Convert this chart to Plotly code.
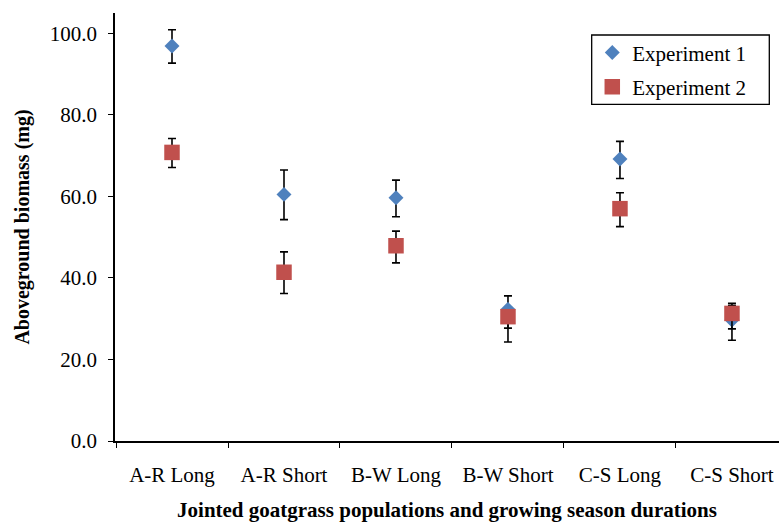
import plotly.graph_objects as go

categories = ["A-R Long", "A-R Short", "B-W Long", "B-W Short", "C-S Long", "C-S Short"]

exp1_mean = [96.9, 60.5, 59.7, 32.3, 69.2, 29.7]
exp1_err_plus = [4.0, 6.0, 4.3, 3.3, 4.3, 4.1]
exp1_err_minus = [4.2, 6.2, 4.7, 4.6, 4.8, 5.0]

exp2_mean = [70.8, 41.4, 47.9, 30.5, 57.0, 31.3]
exp2_err_plus = [3.4, 5.0, 3.6, 1.6, 3.9, 2.0]
exp2_err_minus = [3.7, 5.2, 4.2, 6.2, 4.4, 3.8]

y_ticks = [0, 20, 40, 60, 80, 100]

FONT = "Liberation Serif, serif"

fig = go.Figure()
fig.add_trace(go.Scatter(
    x=categories, y=exp1_mean, mode="markers", name="Experiment 1",
    legendgroup="e1",
    marker=dict(symbol="diamond", size=11.5, color="#4F81BD"),
    error_y=dict(type="data", symmetric=False, array=exp1_err_plus,
                 arrayminus=exp1_err_minus, color="black", thickness=1.6, width=4),
))
fig.add_trace(go.Scatter(
    x=categories, y=exp2_mean, mode="markers", name="Experiment 2",
    legendgroup="e2",
    marker=dict(symbol="square", size=15.5, color="#C0504D"),
    error_y=dict(type="data", symmetric=False, array=exp2_err_plus,
                 arrayminus=exp2_err_minus, color="black", thickness=1.6, width=4),
))

# legend frame
fig.add_shape(type="rect", xref="paper", yref="paper",
              x0=0.7179, x1=0.9854, y0=0.7867, y1=0.9486,
              line=dict(color="black", width=1.3), fillcolor="rgba(0,0,0,0)", layer="above")

fig.update_layout(
    width=779, height=522,
    margin=dict(l=115, r=0, t=13, b=81, autoexpand=False),
    paper_bgcolor="white", plot_bgcolor="white",
    font=dict(family=FONT, size=21, color="black"),
    showlegend=True,
    legend=dict(
        x=0.7188, y=0.955, xanchor="left", yanchor="top",
        borderwidth=0, bgcolor="rgba(0,0,0,0)",
        font=dict(family=FONT, size=21, color="black"),
        tracegroupgap=4,
    ),
    xaxis=dict(
        type="category", categoryorder="array", categoryarray=categories,
        range=[-0.509, 5.42], automargin=False,
        tickson="boundaries", ticks="outside", ticklen=5, tickwidth=1.3,
        tickcolor="black", showline=True, linecolor="black", linewidth=1.5,
        showgrid=False, zeroline=False, ticklabelstandoff=14,
        tickfont=dict(family=FONT, size=21, color="black"),
        title=dict(text="<b>Jointed goatgrass populations and growing season durations</b>",
                   font=dict(family=FONT, size=21, color="black"), standoff=25),
    ),
    yaxis=dict(
        range=[0, 105], tickvals=y_ticks, tickformat=".1f", automargin=False,
        ticks="outside", ticklen=5, tickwidth=1.3, tickcolor="black",
        showline=True, linecolor="black", linewidth=1.5,
        showgrid=False, zeroline=False, ticklabelstandoff=7,
        tickfont=dict(family=FONT, size=21, color="black"),
        title=dict(text="<b>Aboveground biomass (mg)</b>",
                   font=dict(family=FONT, size=20, color="black"), standoff=15),
    ),
)

fig.write_html("out.html", config={"displayModeBar": False},
               post_script="document.body.style.margin='0';document.body.style.padding='0';")
